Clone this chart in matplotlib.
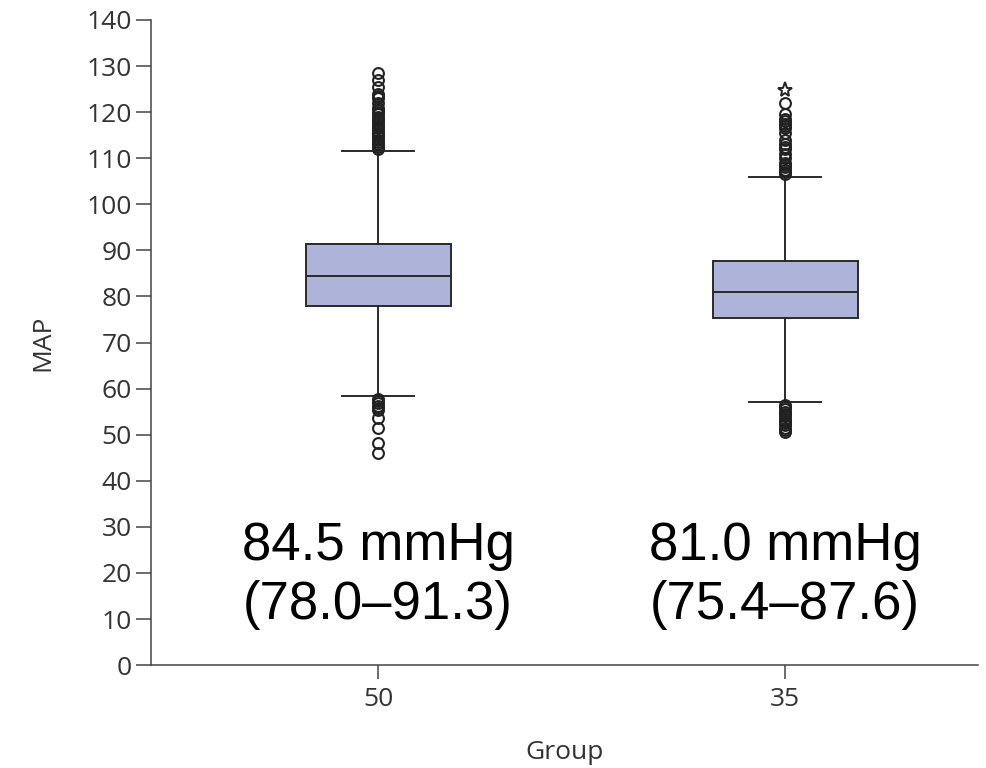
import numpy as np
import matplotlib.pyplot as plt

# Box summary per group (MAP, mmHg)
groups = ["50", "35"]
medians = [84.5, 81.0]
q1 = [78.0, 75.4]
q3 = [91.3, 87.6]
whislo = [58.3, 57.1]
whishi = [111.5, 106.0]
notes = [("84.5 mmHg", "(78.0\u201391.3)"), ("81.0 mmHg", "(75.4\u201387.6)")]

# outliers
fliers_50 = [112.0, 112.5, 113.0, 113.5, 114.0, 114.5, 115.0, 115.5, 116.0, 116.5,
             117.0, 117.5, 118.0, 118.5, 119.0, 119.5, 120.0, 120.5, 121.0, 122.0,
             123.0, 123.5, 124.0, 125.5, 127.0, 128.5,
             57.8, 57.3, 56.8, 56.3, 55.8, 55.3, 53.6, 51.4, 48.2, 46.0]
fliers_35 = [106.5, 107.0, 107.5, 108.0, 108.5, 109.0, 110.0, 111.0, 112.0, 112.5,
             113.0, 114.0, 115.5, 116.5, 117.0, 117.5, 118.0, 118.5, 119.5, 122.0,
             56.5, 56.0, 55.5, 55.0, 54.5, 54.0, 53.5, 53.0, 52.5, 52.0, 51.5, 51.0, 50.5]
extremes_35 = [124.8]

stats = []
for i, g in enumerate(groups):
    stats.append({"label": g, "med": medians[i], "q1": q1[i], "q3": q3[i],
                  "whislo": whislo[i], "whishi": whishi[i],
                  "fliers": fliers_50 if i == 0 else fliers_35})

fig = plt.figure(figsize=(9.87, 7.68), dpi=100)
ax = fig.add_axes([0.153, 0.134, 0.838, 0.840])

edge = "#2a2a2a"
ax.bxp(stats, positions=[1, 2], widths=0.356, capwidths=0.177, patch_artist=True,
       boxprops=dict(facecolor="#adb3d9", edgecolor=edge, linewidth=1.4),
       medianprops=dict(color=edge, linewidth=1.4),
       whiskerprops=dict(color=edge, linewidth=1.4),
       capprops=dict(color=edge, linewidth=1.4),
       flierprops=dict(marker="o", markersize=7.8, markerfacecolor="none",
                       markeredgecolor="#222222", markeredgewidth=1.5))
ax.plot([2] * len(extremes_35), extremes_35, linestyle="none", marker="*",
        markersize=11, markerfacecolor="none", markeredgecolor="#222222",
        markeredgewidth=1.4)

for i, (l1, l2) in enumerate(notes):
    ax.text(i + 1, 22.8, l1, ha="center", va="baseline", fontsize=38,
            family="Liberation Sans", color="black")
    ax.text(i + 1, 9.9, l2, ha="center", va="baseline", fontsize=38,
            family="Liberation Sans", color="black")

ax.set_xlim(0.4423, 2.474)
ax.set_ylim(0, 140)
ax.set_yticks(np.arange(0, 141, 10))
ax.set_xticks([1, 2])
ax.set_xticklabels(groups)

ax.spines["top"].set_visible(False)
ax.spines["right"].set_visible(False)
for s in ["left", "bottom"]:
    ax.spines[s].set_color("#444444")
    ax.spines[s].set_linewidth(1.1)

tickfont = dict(family="Open Sans", size=19, color="#333333")
ax.tick_params(axis="y", length=11, width=1.1, color="#444444", pad=3)
ax.tick_params(axis="x", length=10, width=1.1, color="#444444", pad=6)
for lab in ax.get_yticklabels() + ax.get_xticklabels():
    lab.set_fontfamily("Open Sans")
    lab.set_fontsize(19)
    lab.set_color("#333333")

ax.set_ylabel("MAP", fontdict=tickfont, labelpad=22)
ax.set_xlabel("Group", fontdict=tickfont, labelpad=20)

fig.savefig("out.png", dpi=100)
